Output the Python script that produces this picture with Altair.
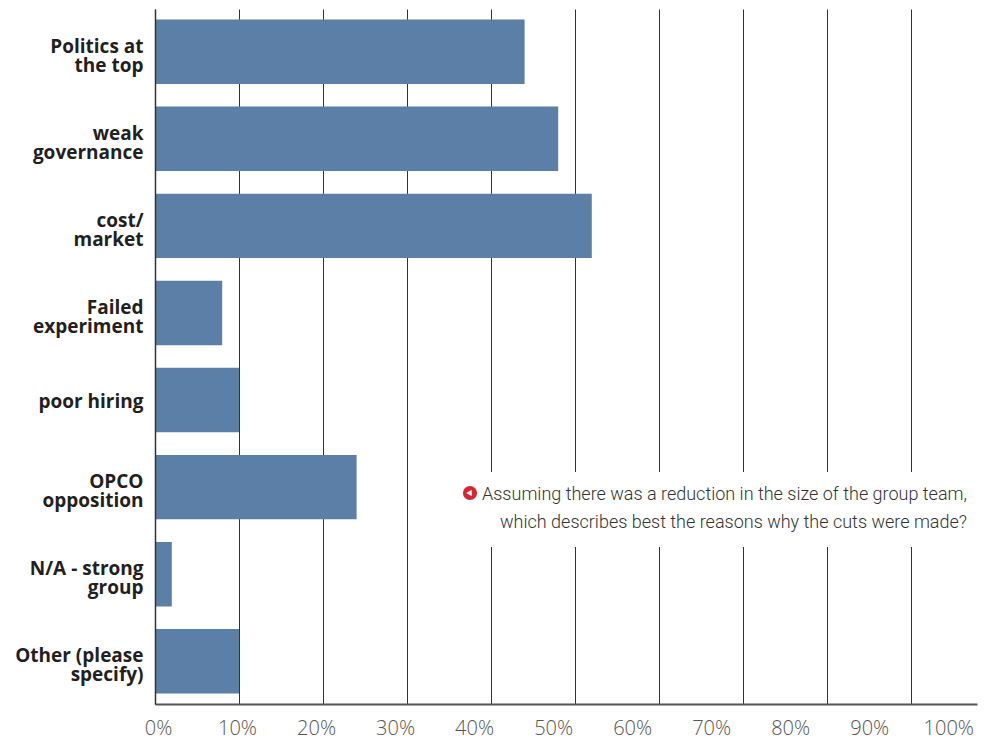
import altair as alt
import pandas as pd

categories = [
    "Politics at\nthe top",
    "weak\ngovernance",
    "cost/\nmarket",
    "Failed\nexperiment",
    "poor hiring",
    "OPCO\nopposition",
    "N/A - strong\ngroup",
    "Other (please\nspecify)",
]
values = [44, 48, 52, 8, 10, 24, 2, 10]
grid_ticks = [0, 10, 20, 30, 40, 50, 60, 70, 80, 90]
label_ticks = [0, 10, 20, 30, 40, 50, 60, 70, 80, 90, 100]
note_lines = [
    "Assuming there was a reduction in the size of the group team,",
    "which describes best the reasons why the cuts were made?",
]

BAR = "#5b7fa6"
W, H = 822, 695

df = pd.DataFrame({"category": categories, "value": values})
ticks_df = pd.DataFrame({"tick": label_ticks})
note_df = pd.DataFrame({"note": [note_lines]})
one = pd.DataFrame({"k": [0]})

y_enc = alt.Y(
    "category:N",
    sort=None,
    scale=alt.Scale(paddingInner=0.26, paddingOuter=0.12),
    axis=alt.Axis(
        title=None,
        ticks=False,
        domain=True,
        domainColor="#333333",
        domainWidth=1.5,
        labelFont="Open Sans",
        labelFontWeight="bold",
        labelFontSize=19,
        labelColor="#231f20",
        labelPadding=12,
        labelLineHeight=19,
        labelLimit=200,
        labelExpr="split(datum.label, '\\n')",
        labelOffset={
            "condition": {"test": "indexof(datum.label, '\\n') >= 0", "value": -5},
            "value": 2,
        },
        zindex=1,
    ),
)

bars = alt.Chart(df).mark_bar(color=BAR).encode(
    x=alt.X(
        "value:Q",
        scale=alt.Scale(domain=[0, 97.86], nice=False, zero=True),
        axis=alt.Axis(
            orient="bottom",
            title=None,
            values=grid_ticks,
            labels=False,
            ticks=False,
            grid=True,
            gridColor="#333333",
            gridWidth=1,
            gridOpacity=1,
            domain=True,
            domainColor="#555555",
            domainWidth=2,
        ),
    ),
    y=y_enc,
)

labels_layer = alt.Chart(ticks_df).mark_point(opacity=0).encode(
    x=alt.X(
        "tick:Q",
        scale=alt.Scale(domain=[-0.38, 103.64], nice=False, zero=False),
        axis=alt.Axis(
            orient="bottom",
            title=None,
            values=label_ticks,
            labelExpr="datum.value + '%'",
            grid=False,
            ticks=False,
            domain=False,
            labelFont="Open Sans",
            labelFontWeight=300,
            labelFontSize=20,
            labelColor="#555555",
            labelPadding=14,
            labelFlush=False,
            labelOverlap=False,
        ),
    ),
)

box = alt.Chart(one).mark_rect(color="white").encode(
    x=alt.value(300), x2=alt.value(840), y=alt.value(463), y2=alt.value(538)
)

icon = alt.Chart(one).mark_point(
    shape="circle", filled=True, color="#d7262f", size=200, opacity=1
).encode(x=alt.value(315), y=alt.value(484))

tri = alt.Chart(one).mark_point(
    shape="triangle-left", filled=True, color="white", size=40, opacity=1
).encode(x=alt.value(314), y=alt.value(484))

note = alt.Chart(note_df).mark_text(
    align="right",
    baseline="alphabetic",
    font="Roboto",
    fontWeight=300,
    fontSize=18,
    lineHeight=28,
    color="#333333",
).encode(text="note", x=alt.value(812), y=alt.value(491))

chart = (
    alt.layer(bars, labels_layer, box, icon, tri, note)
    .resolve_scale(x="independent")
    .properties(
        width=W,
        height=H,
        background="white",
        autosize=alt.AutoSizeParams(type="none"),
        padding={"left": 155, "top": 9, "right": 10, "bottom": 36},
    )
    .configure_view(strokeWidth=0, stroke="transparent")
)

chart.save("out.html", embed_options={"renderer": "svg", "actions": False})
